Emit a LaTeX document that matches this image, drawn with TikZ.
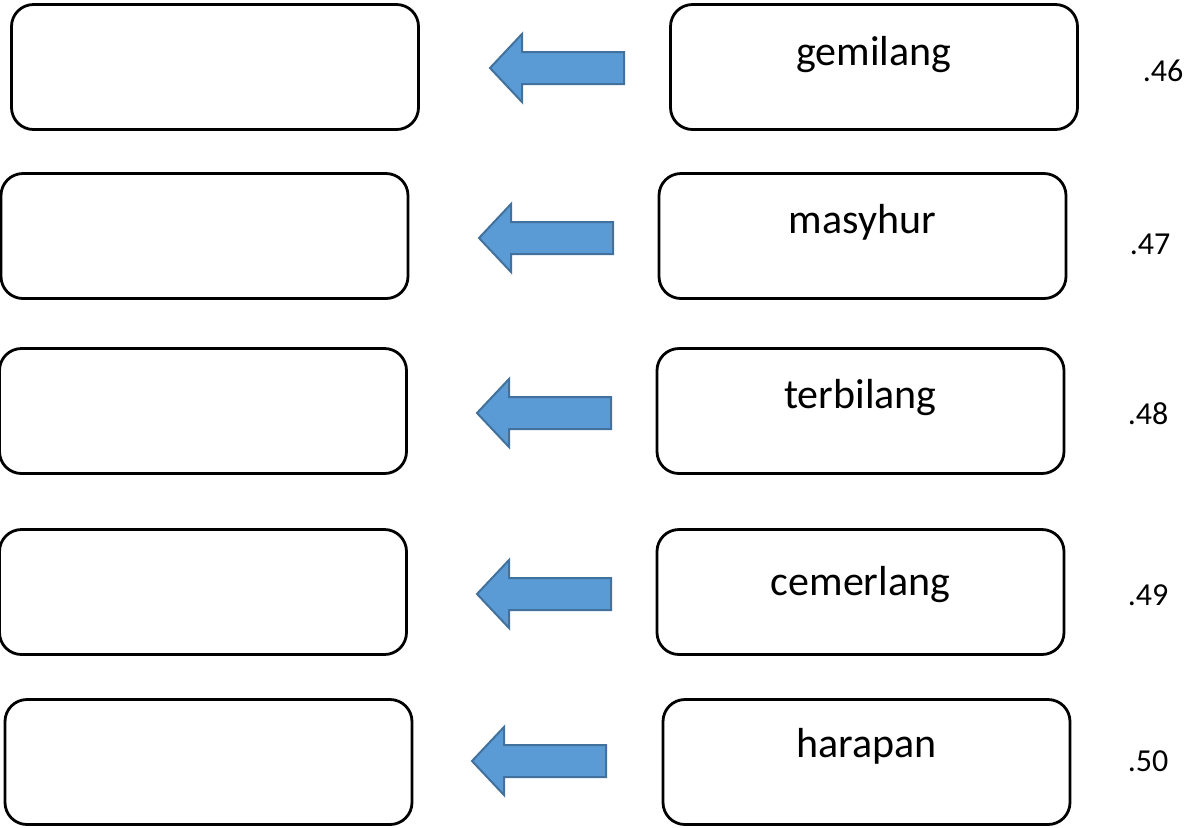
\documentclass[tikz,border=0pt]{standalone}
\usepackage{fontspec}
\setmainfont{Carlito}
\usetikzlibrary{positioning}
\definecolor{arrowfill}{RGB}{91,155,213}
\definecolor{arrowline}{RGB}{65,113,156}
\tikzset{answer box/.style={rectangle,draw=black,line width=1.4pt,rounded corners=11pt,minimum width=203.5pt,minimum height=62.5pt,inner sep=0pt},
         word/.style={anchor=base,inner sep=0pt,font=\fontsize{21}{24}\selectfont},
         score/.style={anchor=base,inner sep=0pt,font=\fontsize{16}{18}\selectfont},
         block arrow/.style={fill=arrowfill,draw=arrowline,line width=1pt,line join=miter}
}
\begin{document}
\begin{tikzpicture}[x=0.5pt,y=-0.5pt]
\useasboundingbox (0,0) rectangle (1195,827);
% empty answer boxes
\node [answer box] (L1) at (215,67) {};
\node [answer box] (L2) at (204.5,236) {};
\node [answer box] (L3) at (203,411) {};
\node [answer box] (L4) at (203,592) {};
\node [answer box] (L5) at (208.5,762) {};
% word boxes
\node [answer box] (R1) at (874,67) {};
\node [answer box] (R2) at (862.5,236) {};
\node [answer box] (R3) at (860.5,411) {};
\node [answer box] (R4) at (860.5,592) {};
\node [answer box] (R5) at (866.5,762) {};
\node [word] (w1) at (874,65) {gemilang};
\node [word] (w2) at (862.5,233) {masyhur};
\node [word] (w3) at (860.5,408) {terbilang};
\node [word] (w4) at (860.5,595) {cemerlang};
\node [word] (w5) at (866.5,757) {harapan};
% question numbers
\node [score] (n1) at (1163,81) {.46};
\node [score] (n2) at (1150,254) {.47};
\node [score] (n3) at (1148,424) {.48};
\node [score] (n4) at (1148,605) {.49};
\node [score] (n5) at (1148,771) {.50};
% arrows
\coordinate (t1) at (490,68);
\coordinate (t2) at (479,238);
\coordinate (t3) at (477,413);
\coordinate (t4) at (477,594);
\coordinate (t5) at (472,761);
\foreach \t in {t1,t2,t3,t4,t5}
  \draw [block arrow] (\t) -- ++(32,-34) -- ++(0,18) -- ++(102,0) -- ++(0,32)
        -- ++(-102,0) -- ++(0,18) -- cycle;
\end{tikzpicture}
\end{document}
